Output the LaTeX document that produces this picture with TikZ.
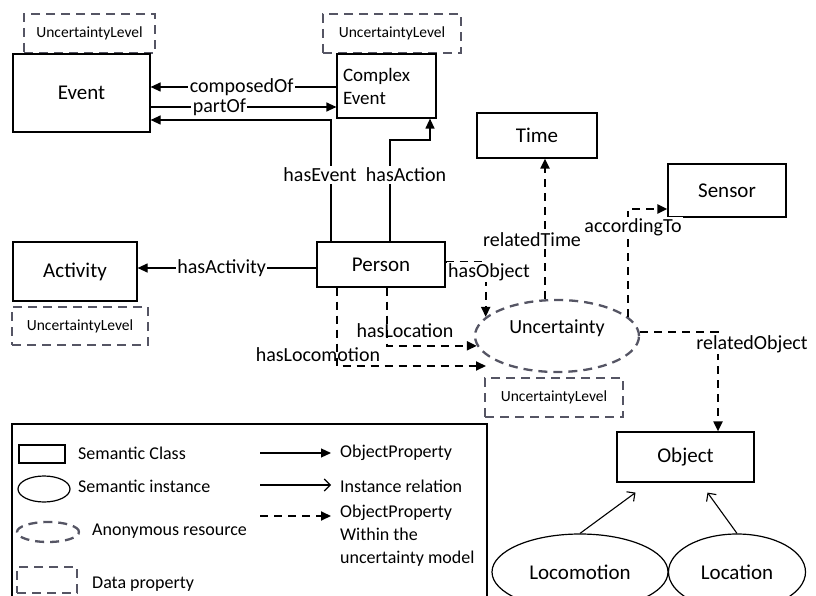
\documentclass[tikz,border=0pt]{standalone}
\usepackage{fontspec}
\setmainfont{Carlito}
\usetikzlibrary{arrows.meta,shapes.geometric}
\definecolor{ulgray}{RGB}{85,85,100}
\begin{document}
\begin{tikzpicture}[x=1pt,y=-1pt,
  cls/.style={draw,line width=1.2pt,font=\fontsize{21}{25}\selectfont,inner sep=0pt},
  ulbox/.style={draw=ulgray,line width=2.3pt,dash pattern=on 9pt off 6pt,font=\fontsize{15.5}{18}\selectfont,inner sep=0pt},
  inst/.style={ellipse,draw,line width=1.2pt,font=\fontsize{21}{25}\selectfont,inner sep=0pt},
  anon/.style={ellipse,draw=ulgray,line width=2.3pt,dash pattern=on 9pt off 6pt,font=\fontsize{20}{24}\selectfont,inner sep=0pt},
  elbl/.style={font=\fontsize{20}{24}\selectfont,inner sep=1.5pt},
  prop/.style={line width=1.2pt,-{Triangle[length=10pt,width=9pt]}},
  uprop/.style={line width=2pt,dash pattern=on 8pt off 6pt,-{Triangle[length=10pt,width=9pt]}},
  instrel/.style={line width=1.1pt,-{Straight Barb[length=6pt,width=12pt]}},
  legtxt/.style={font=\fontsize{18}{23}\selectfont,anchor=west,inner sep=0pt,align=left}]

\useasboundingbox (0,0) rectangle (816,596);

\node[ulbox,minimum width=131pt,minimum height=39pt] (ulevt) at (89.5,33.5) {UncertaintyLevel};
\node[cls,minimum width=137pt,minimum height=78pt] (evt) at (81.5,93) {Event};
\node[ulbox,minimum width=138pt,minimum height=39pt] (ulcevt) at (392,33.5) {UncertaintyLevel};
\node[cls,minimum width=99pt,minimum height=64pt,align=left,text width=87pt,font=\fontsize{19}{23}\selectfont] (cevt) at (386.5,86) {Complex\\Event};
\node[cls,minimum width=120pt,minimum height=45pt] (time) at (537,135.5) {Time};
\node[cls,minimum width=118pt,minimum height=53pt] (sensor) at (727,190.5) {Sensor};
\node[cls,minimum width=128pt,minimum height=45pt] (person) at (381,264.5) {Person};
\node[cls,minimum width=124pt,minimum height=59pt] (act) at (75,271.5) {Activity};
\node[ulbox,minimum width=136pt,minimum height=38pt] (ulact) at (80,326) {UncertaintyLevel};
\node[anon,minimum width=164pt,minimum height=72pt] (unc) at (557,336) {\raisebox{18pt}{Uncertainty}};
\node[ulbox,minimum width=138pt,minimum height=39pt] (ulunc) at (554,397.5) {UncertaintyLevel};
\node[cls,minimum width=137pt,minimum height=50pt] (obj) at (685.5,457) {Object};
\node[inst,minimum width=176pt,minimum height=76pt] (loco) at (580,572) {Locomotion};
\node[inst,minimum width=137pt,minimum height=76pt] (loc) at (737,572) {Location};

\draw[prop] (cevt.west |- 0,87) -- node[elbl,fill=white,pos=0.51] (lcomp) {composedOf} (evt.east |- 0,87);
\draw[prop] (evt.east |- 0,107) -- node[elbl,fill=white,pos=0.37] (lpart) {partOf} (cevt.west |- 0,107);
\draw[prop] (person.north -| 331,0) |- (evt.east |- 0,120);
\draw[prop] (person.north -| 390,0) |- (430,140) -- (cevt.south -| 430,0);
\node[elbl,fill=white] (levt) at (320,175) {hasEvent};
\node[elbl,fill=white] (lact) at (406,175) {hasAction};
\draw[prop] (person.west |- 0,268) -- node[elbl,fill=white,pos=0.53] (lactv) {hasActivity} (act.east |- 0,268);

\coordinate (locend) at (486,366);
\draw[uprop] (person.east |- 0,262) -| (unc.165);
\draw[uprop] (person.south -| 387,0) |- (unc.187);
\draw[uprop] (person.south -| 337,0) |- (locend);
\draw[uprop] (unc.north -| 545,0) -- (time.south -| 545,0);
\draw[uprop] (unc.15) |- (sensor.west |- 0,209);
\draw[uprop] (unc.east |- 0,332) -| (obj.north -| 718,0);
\node[elbl,fill=white] (lobj) at (489,272) {hasObject};
\node[elbl] (lloc) at (405,331) {hasLocation};
\node[elbl] (llocom) at (318,355) {hasLocomotion};
\node[elbl,fill=white] (ltime) at (532,240) {relatedTime};
\node[elbl,fill=white] (lsens) at (633,227) {accordingTo};
\node[elbl,fill=white] (lrobj) at (752,344) {relatedObject};

\draw[instrel] (loco.north) -- ([shift={(-50,10)}]obj.south);
\draw[instrel] (loc.north) -- ([shift={(22,10)}]obj.south);

\draw[line width=2.5pt] (12,424) rectangle (487,600);
\node[draw,line width=1.2pt,minimum width=46pt,minimum height=18pt,inner sep=0pt] (lgcls) at (42,454) {};
\node[inst,minimum width=52pt,minimum height=26pt] (lginst) at (44,489) {};
\node[anon,minimum width=62pt,minimum height=20pt] (lganon) at (48,532) {};
\node[ulbox,minimum width=60pt,minimum height=26pt] (lgdata) at (47,580) {};
\node[legtxt] (tcls) at (78,453) {Semantic Class};
\node[legtxt] (tinst) at (78,486) {Semantic instance};
\node[legtxt] (tanon) at (92,531) {Anonymous resource};
\node[legtxt] (tdata) at (92,584) {Data property};
\node[legtxt] (tprop) at (340,453) {ObjectProperty};
\node[legtxt] (trel) at (340,486) {Instance relation};
\node[legtxt,anchor=north west] (tuprop) at (340,505) {ObjectProperty\\Within the\\uncertainty model};

\foreach \y/\sty [count=\i] in {453/prop,485/instrel,516/uprop} {
  \coordinate (lga\i) at (260,\y);
  \coordinate (lgb\i) at (331,\y);
  \draw[\sty] (lga\i) -- (lgb\i);
}

\end{tikzpicture}
\end{document}
